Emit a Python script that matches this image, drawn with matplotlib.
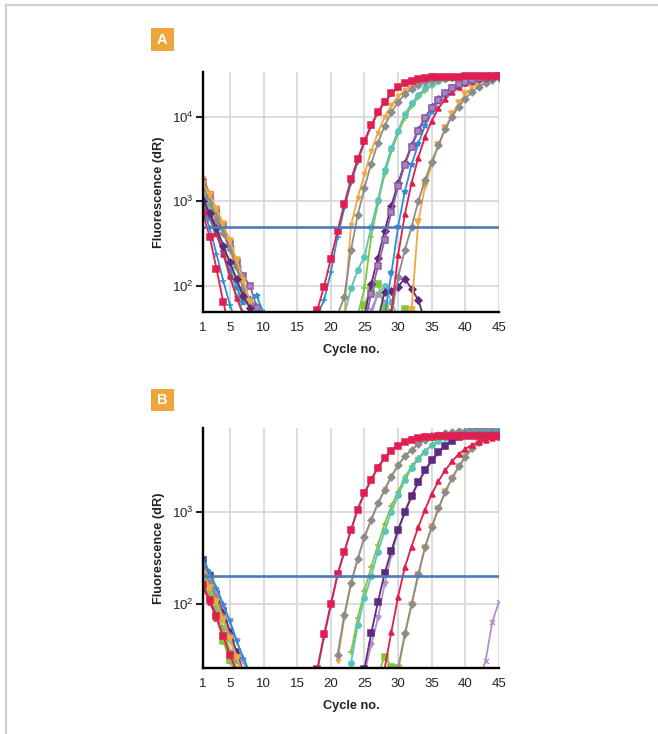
import numpy as np
import matplotlib
matplotlib.use("Agg")
import matplotlib.pyplot as plt
from matplotlib.lines import Line2D
from matplotlib.patches import Rectangle
from matplotlib.ticker import FixedLocator, NullLocator

plt.rcParams['font.family'] = ['Liberation Sans', 'DejaVu Sans']

"""
   Data (read off the picture)
"""
x_ticks = [1, 5, 10, 15, 20, 25, 30, 35, 40, 45]
threshold_a = 500
threshold_b = 200
ylim_a = (49, 34000)
ylim_b = (20.3, 8070)

# Panel A - decay at the start of the run, values from cycle 1
a_red_sq_e = [720, 380, 160, 65, 30]
a_blue_e = [820, 480, 240, 115, 60, 35]
a_orange_e = [1900, 1250, 700, 440, 270, 160, 95, 58, 40]
a_gray_e = [1200, 900, 600, 420, 270, 165, 90, 62, 42]
a_teal_e = [1300, 800, 450, 240, 130, 75, 48, 30]
a_green_e = [1100, 750, 480, 300, 180, 110, 68, 55, 60, 45]
a_dkpurple_e = [1000, 720, 480, 300, 190, 120, 75, 55, 38]
a_purple_sq_e = [1700, 1200, 800, 520, 320, 190, 130, 100, 55, 30]
a_blue_star_e = [900, 620, 400, 250, 150, 95, 62, 70, 75, 48]
a_red_tri_e = [1100, 700, 420, 240, 130, 72, 45]
a_gray2_e = [1500, 1100, 760, 500, 300, 170, 95, 55, 35]
a_orange2_e = [1600, 1200, 820, 540, 340, 200, 115, 65, 42]

# Panel A - amplification, first cycle then values
a_red_sq_c0 = 17
a_red_sq = [30, 52, 98, 210, 445, 930, 1820, 3160, 5250, 7950, 11500, 15100, 19000, 22400,
            25100, 26900, 28200, 28800, 29500, 29700, 29800, 30000, 30000, 30100, 30100,
            30200, 30200, 30200, 30200]
a_blue_c0 = 17
a_blue = [25, 45, 68, 145, 380, 830, 1650, 2950, 5000, 7700, 11200, 14800, 18700, 22000,
          24800, 26700, 28000, 28700, 29300, 29600, 29800, 29900, 30000, 30000, 30100,
          30100, 30100, 30100, 30100]
a_orange_c0 = 21
a_orange = [25, 45, 520, 1100, 2100, 3900, 6500, 10000, 13800, 17500, 20800, 23600, 25800,
            27300, 28300, 29000, 29500, 29800, 30000, 30100, 30200, 30200, 30300, 30300, 30300]
a_gray_c0 = 20
a_gray = [25, 45, 74, 265, 690, 1450, 2800, 4900, 7800, 11300, 15000, 18500, 21500, 24000,
          26000, 27400, 28400, 29100, 29600, 29900, 30100, 30200, 30300, 30300, 30300, 30300]
a_teal_c0 = 22
a_teal = [45, 93, 153, 220, 500, 1030, 2350, 4270, 6900, 10700, 14500, 18000, 21700, 24700,
          26500, 27800, 28700, 29300, 29700, 30000, 30100, 30200, 30300, 30300]
a_green_c0 = 24
a_green = [45, 93, 380, 950, 2100, 3900, 6400, 9800, 13500, 17000, 20500, 23500, 25800,
           27300, 28400, 29100, 29600, 29900, 30100, 30200, 30300, 30300]
a_dkpurple_c0 = 25
a_dkpurple = [45, 105, 215, 450, 880, 1650, 2850, 4600, 7000, 9800, 13000, 16300, 19300,
              22000, 24300, 26100, 27500, 28600, 29400, 29900, 30200]
a_purple_sq_c0 = 25
a_purple_sq = [35, 80, 170, 350, 750, 1500, 2700, 4400, 6800, 9600, 12800, 16000, 19000,
               21800, 24300, 26200, 27700, 28700, 29400, 29900, 30300]
a_blue_star_c0 = 27
a_blue_star = [25, 45, 140, 500, 1300, 2700, 4800, 7900, 11500, 15200, 18700, 21700, 24200,
               26200, 27700, 28800, 29500, 30000, 30300]
a_red_tri_c0 = 28
a_red_tri = [25, 50, 230, 700, 1650, 3300, 5800, 9000, 12600, 16300, 19700, 22700, 25100,
             26900, 28200, 29100, 29700, 30200]
a_gray2_c0 = 28
a_gray2 = [25, 45, 126, 265, 500, 1000, 1780, 2950, 4600, 7200, 10000, 13200, 16500, 19800,
           22800, 25200, 27200, 28800]
a_orange2_c0 = 31
a_orange2 = [25, 52, 570, 1500, 2700, 4600, 7300, 10800, 14500, 18500, 22300, 25300, 27500,
             29200, 30200]
# Panel A - wells that never take off
a_dkpurple_f_c0 = 27
a_dkpurple_f = [40, 85, 88, 98, 122, 92, 68, 38]
a_green_sq_f_c0 = 24
a_green_sq_f = [40, 60, 93, 106, 55, 35]
a_green_sq_f2_c0 = 30
a_green_sq_f2 = [30, 53, 47, 30]
a_lavender_f_c0 = 25
a_lavender_f = [38, 52, 80, 66, 45, 30]
a_teal_f_c0 = 26
a_teal_f = [45, 80, 100, 65, 42]

# Panel B - decay at the start of the run, values from cycle 1
b_red_sq_e = [160, 110, 75, 45, 28, 19]
b_blue_e = [310, 220, 150, 100, 65, 40, 26, 18]
b_orange_e = [250, 180, 120, 80, 50, 30, 19]
b_gray_e = [220, 160, 110, 70, 42, 25, 17]
b_teal_e = [200, 140, 90, 55, 30, 19]
b_green_e = [230, 160, 100, 55, 30, 20, 17]
b_dkpurple_e = [300, 200, 130, 85, 50, 30, 18]
b_lavender_e = [260, 190, 140, 95, 65, 40, 24, 15]
b_red_tri_e = [150, 105, 70, 42, 25, 17]
b_gray2_e = [240, 170, 115, 72, 45, 27, 18]
b_orange2_e = [210, 150, 105, 68, 42, 26, 17]
b_green_sq_e = [180, 120, 75, 40, 25, 18]

# Panel B - amplification
b_red_sq_c0 = 18
b_red_sq = [20, 47, 100, 210, 370, 630, 1050, 1580, 2200, 3000, 3800, 4600, 5200, 5700, 6000,
            6250, 6400, 6500, 6550, 6600, 6600, 6600, 6650, 6650, 6650, 6650, 6650, 6650]
b_blue_c0 = 18
b_blue = [19, 44, 96, 205, 365, 640, 1080, 1620, 2250, 3050, 3850, 4650, 5250, 5750, 6100,
          6350, 6550, 6700, 6800, 6900, 7000, 7050, 7100, 7150, 7200, 7200, 7250, 7250]
b_gray_c0 = 21
b_gray = [28, 76, 170, 310, 535, 810, 1230, 1700, 2400, 3170, 4000, 4650, 5400, 6000, 6500,
          6850, 7100, 7300, 7450, 7550, 7650, 7700, 7750, 7800, 7800]
b_orange_c0 = 21
b_orange = [24, 70, 165, 305, 530, 820, 1250, 1750, 2450, 3200, 4000, 4700, 5400, 6000, 6450,
            6800, 7050, 7250, 7400, 7500, 7600, 7650, 7700, 7700, 7750]
b_teal_c0 = 23
b_teal = [23, 59, 115, 200, 370, 620, 1000, 1500, 2200, 2950, 3700, 4450, 5250, 5850, 6300,
          6700, 7000, 7250, 7450, 7600, 7700, 7750, 7800]
b_green_c0 = 23
b_green = [30, 70, 140, 250, 440, 740, 1150, 1650, 2350, 3100, 3850, 4550, 5300, 5900, 6300,
           6650, 6900, 7100, 7300, 7400, 7500, 7600, 7650]
b_dkpurple_c0 = 25
b_dkpurple = [20, 48, 105, 215, 380, 640, 1000, 1480, 2100, 2800, 3600, 4400, 5200, 5900,
              6500, 7000, 7400, 7700, 7900, 8000, 8100]
b_lavender_c0 = 25
b_lavender = [18, 36, 70, 165, 340, 610, 970, 1450, 2050, 2750, 3550, 4350, 5150, 5850, 6450,
              6950, 7350, 7650, 7850, 7950, 8050]
b_red_tri_c0 = 28
b_red_tri = [20, 50, 120, 250, 420, 680, 1050, 1550, 2150, 2800, 3500, 4200, 4800, 5300,
             5700, 6000, 6300, 6500]
b_gray2_c0 = 30
b_gray2 = [20, 48, 100, 210, 415, 690, 1090, 1650, 2300, 3100, 3960, 4900, 5700, 6300, 6900, 7400]
b_orange2_c0 = 30
b_orange2 = [19, 45, 97, 205, 405, 680, 1070, 1620, 2260, 3050, 3900, 4800, 5550, 6100, 6600, 7000]
b_green_sq_f_c0 = 27
b_green_sq_f = [17, 27, 21, 20.3, 17]
b_lavender_f_c0 = 42
b_lavender_f = [15, 24, 64, 106]

"""
   Styles
"""
red = '#E01E4F'
blue = '#2A8FD4'
orange = '#F2A93B'
gray = '#8C8C8C'
teal = '#5BC4B6'
green = '#86C440'
dkpurple = '#5E2A7E'
purple = '#8D5BA5'
lavender = '#B48FCB'

# name: (color, marker, size, face)
styles = {
    'red_sq': (red, 's', 4.6, red),
    'blue': (blue, '+', 3.8, blue),
    'orange': (orange, 'v', 3.0, orange),
    'gray': (gray, 'D', 3.4, gray),
    'teal': (teal, 'o', 3.8, teal),
    'green': (green, '+', 3.8, green),
    'dkpurple': (dkpurple, 'D', 3.5, dkpurple),
    'dkpurple_sq': (dkpurple, 's', 4.2, dkpurple),
    'purple_sq': (purple, 's', 4.2, '#A985C0'),
    'blue_star': (blue, '*', 4.2, blue),
    'red_tri': (red, '^', 3.6, red),
    'gray2': (gray, 'D', 3.4, gray),
    'orange2': (orange, 'v', 4.0, orange),
    'green_sq': (green, 's', 5.0, green),
    'lavender': (lavender, 'x', 3.6, lavender),
    'lavender_v': (lavender, 'v', 3.6, lavender),
}

curves_a = [
    # (first cycle, values, style)
    (1, a_orange_e, 'orange'), (1, a_gray_e, 'gray'), (1, a_teal_e, 'teal'),
    (1, a_green_e, 'green'), (1, a_purple_sq_e, 'purple_sq'), (1, a_blue_star_e, 'blue_star'),
    (1, a_red_tri_e, 'red_tri'), (1, a_gray2_e, 'gray2'), (1, a_orange2_e, 'orange2'),
    (1, a_dkpurple_e, 'dkpurple'), (1, a_blue_e, 'blue'), (1, a_red_sq_e, 'red_sq'),
    (a_teal_f_c0, a_teal_f, 'teal'), (a_lavender_f_c0, a_lavender_f, 'lavender'),
    (a_green_sq_f_c0, a_green_sq_f, 'green_sq'), (a_green_sq_f2_c0, a_green_sq_f2, 'green_sq'),
    (a_dkpurple_f_c0, a_dkpurple_f, 'dkpurple'),
    (a_orange2_c0, a_orange2, 'orange2'), (a_gray2_c0, a_gray2, 'gray2'),
    (a_blue_star_c0, a_blue_star, 'blue_star'), (a_red_tri_c0, a_red_tri, 'red_tri'),
    (a_dkpurple_c0, a_dkpurple, 'dkpurple'), (a_purple_sq_c0, a_purple_sq, 'purple_sq'),
    (a_green_c0, a_green, 'green'), (a_teal_c0, a_teal, 'teal'),
    (a_orange_c0, a_orange, 'orange'), (a_gray_c0, a_gray, 'gray'),
    (a_blue_c0, a_blue, 'blue'), (a_red_sq_c0, a_red_sq, 'red_sq'),
]

curves_b = [
    (1, b_orange_e, 'orange'), (1, b_gray_e, 'gray'), (1, b_teal_e, 'teal'),
    (1, b_green_e, 'green'), (1, b_dkpurple_e, 'dkpurple_sq'), (1, b_lavender_e, 'lavender_v'),
    (1, b_red_tri_e, 'red_tri'), (1, b_gray2_e, 'gray2'), (1, b_orange2_e, 'orange2'),
    (1, b_green_sq_e, 'green_sq'), (1, b_red_sq_e, 'red_sq'), (1, b_blue_e, 'blue'),
    (b_green_sq_f_c0, b_green_sq_f, 'green_sq'), (b_lavender_f_c0, b_lavender_f, 'lavender'),
    (b_orange2_c0, b_orange2, 'orange2'), (b_gray2_c0, b_gray2, 'gray2'),
    (b_red_tri_c0, b_red_tri, 'red_tri'), (b_lavender_c0, b_lavender, 'lavender_v'),
    (b_dkpurple_c0, b_dkpurple, 'dkpurple_sq'), (b_green_c0, b_green, 'green'),
    (b_teal_c0, b_teal, 'teal'), (b_orange_c0, b_orange, 'orange'), (b_gray_c0, b_gray, 'gray'),
    (b_blue_c0, b_blue, 'blue'), (b_red_sq_c0, b_red_sq, 'red_sq'),
]

W, H = 658, 734
fig = plt.figure(figsize=(W / 100, H / 100), dpi=100)


def draw_panel(rect, curves, ylim, yticks, thr):
    ax = fig.add_axes(rect)
    for c0, vals, st in curves:
        col, mk, ms, face = styles[st]
        x = np.arange(c0, c0 + len(vals))
        ax.plot(x, vals, color=col, marker=mk, ms=ms, mfc=face, mec=col, mew=1.1, lw=1.3)
    ax.axhline(thr, color='#4C7BB8', lw=1.9, zorder=10)

    ax.set_yscale('log')
    ax.set_xlim(1, 45)
    ax.set_ylim(*ylim)
    ax.xaxis.set_major_locator(FixedLocator(x_ticks))
    ax.yaxis.set_major_locator(FixedLocator(yticks))
    ax.yaxis.set_minor_locator(NullLocator())
    ax.grid(True, color='#D6D6D6', lw=1.2, zorder=0)
    ax.set_axisbelow(True)

    for s in ['top', 'right']:
        ax.spines[s].set_visible(False)
    for s in ['left', 'bottom']:
        ax.spines[s].set_linewidth(1.7)
        ax.spines[s].set_color('black')
        ax.spines[s].set_zorder(12)

    ax.tick_params(axis='y', length=5, width=1.5, pad=2, labelsize=9.5, colors='#222222')
    ax.tick_params(axis='x', length=0, pad=7, labelsize=9.5, colors='#222222')
    ax.set_ylabel('Fluorescence (dR)', fontsize=9.2, fontweight='bold', color='#222222')
    ax.yaxis.set_label_coords(-0.13, 0.5)
    ax.set_xlabel('Cycle no.', fontsize=9.2, fontweight='bold', color='#222222')
    ax.xaxis.set_label_coords(0.5, -0.135)
    return ax


ax_a = draw_panel([203 / W, 1 - 312 / H, 296 / W, 240 / H], curves_a, ylim_a,
                  [100, 1000, 10000], threshold_a)
ax_b = draw_panel([203 / W, 1 - 668 / H, 296 / W, 240 / H], curves_b, ylim_b,
                  [100, 1000], threshold_b)

# Panel letters
for letter, top in [('A', 28.5), ('B', 388.5)]:
    fig.add_artist(Rectangle((151 / W, 1 - (top + 22.5) / H), 22.5 / W, 22.5 / H,
                             transform=fig.transFigure, color='#EEA63C', lw=0))
    fig.text(162.3 / W, 1 - (top + 11.5) / H, letter, color='white', fontsize=10.5,
             fontweight='bold', ha='center', va='center')

# Frame of the figure
fig.add_artist(Line2D([6 / W, 1], [1 - 5 / H, 1 - 5 / H], color='#CFCFCF', lw=1.6,
                      transform=fig.transFigure))
fig.add_artist(Line2D([6 / W, 6 / W], [0, 1 - 5 / H], color='#CFCFCF', lw=1.6,
                      transform=fig.transFigure))

fig.savefig('out.png', dpi=100)
